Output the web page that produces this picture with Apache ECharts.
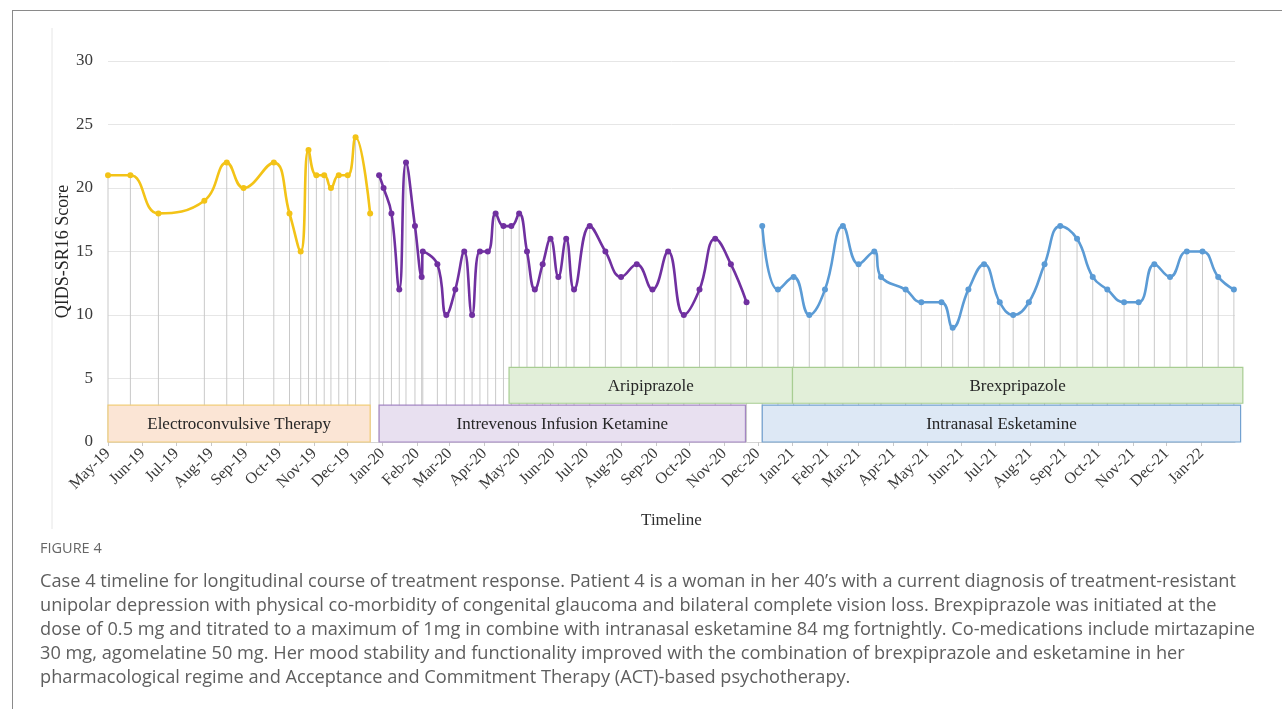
<!DOCTYPE html>
<html>
<head>
<meta charset="utf-8">
<title>Case 4 timeline</title>
<script src="https://cdn.jsdelivr.net/npm/echarts@6/dist/echarts.min.js"></script>
<style>
  html, body { margin: 0; padding: 0; background: #fff; }
  body { width: 1282px; height: 709px; position: relative; overflow: hidden; }
  #frame { position: absolute; left: 12px; top: 10px; right: -2px; bottom: -2px;
           border-top: 1px solid #8a8a8a; border-left: 1px solid #8a8a8a; }
  #chart { position: absolute; left: 0; top: 0; width: 1282px; height: 709px; }
  #caption { position: absolute; left: 40px; top: 538px; font-family: "Open Sans", "Noto Sans", sans-serif;
             color: #5e5e5e; }
  #caption .fig { font-size: 14.5px; line-height: 20px; margin-bottom: 10px; color: #666; }
  #caption .line { font-size: 18.2px; line-height: 24px; white-space: nowrap; }
</style>
</head>
<body>
<div id="frame"></div>
<div id="chart"></div>
<div id="caption">
  <div class="fig">FIGURE 4</div>
  <div class="line">Case 4 timeline for longitudinal course of treatment response. Patient 4 is a woman in her 40’s with a current diagnosis of treatment-resistant</div>
  <div class="line">unipolar depression with physical co-morbidity of congenital glaucoma and bilateral complete vision loss. Brexpiprazole was initiated at the</div>
  <div class="line">dose of 0.5 mg and titrated to a maximum of 1mg in combine with intranasal esketamine 84 mg fortnightly. Co-medications include mirtazapine</div>
  <div class="line">30 mg, agomelatine 50 mg. Her mood stability and functionality improved with the combination of brexpiprazole and esketamine in her</div>
  <div class="line">pharmacological regime and Acceptance and Commitment Therapy (ACT)-based psychotherapy.</div>
</div>
<script>
// QIDS-SR16 scores per assessment date, grouped by treatment phase
const ectDates = ['2019-05-01','2019-05-21','2019-06-15','2019-07-26','2019-08-15','2019-08-30','2019-09-26',
  '2019-10-10','2019-10-20','2019-10-27','2019-11-03','2019-11-10','2019-11-16','2019-11-23','2019-12-01',
  '2019-12-08','2019-12-21'];
const ectScores = [21,21,18,19,22,20,22,18,15,23,21,21,20,21,21,24,18];

const ketamineDates = ['2019-12-29','2020-01-02','2020-01-09','2020-01-16','2020-01-22','2020-01-30','2020-02-05',
  '2020-02-06','2020-02-19','2020-02-27','2020-03-06','2020-03-14','2020-03-21','2020-03-28','2020-04-04',
  '2020-04-11','2020-04-18','2020-04-25','2020-05-02','2020-05-09','2020-05-16','2020-05-23','2020-05-30',
  '2020-06-06','2020-06-13','2020-06-20','2020-07-04','2020-07-18','2020-08-01','2020-08-15','2020-08-29',
  '2020-09-12','2020-09-26','2020-10-10','2020-10-24','2020-11-07','2020-11-21'];
const ketamineScores = [21,20,18,12,22,17,13,15,14,10,12,15,10,15,15,18,17,17,18,15,12,14,16,13,16,12,
  17,15,13,14,12,15,10,12,16,14,11];

const esketamineDates = ['2020-12-05','2020-12-19','2021-01-02','2021-01-16','2021-01-30','2021-02-15','2021-03-01',
  '2021-03-15','2021-03-21','2021-04-12','2021-04-26','2021-05-14','2021-05-24','2021-06-07','2021-06-21',
  '2021-07-05','2021-07-17','2021-07-31','2021-08-14','2021-08-28','2021-09-12','2021-09-26','2021-10-09',
  '2021-10-24','2021-11-06','2021-11-20','2021-12-04','2021-12-19','2022-01-02','2022-01-16','2022-01-30'];
const esketamineScores = [17,12,13,10,12,17,14,15,13,12,11,11,9,12,14,11,10,11,14,17,16,13,12,11,11,14,13,15,15,13,12];

// Treatment bars drawn in the lower part of the plot
const treatmentNames = ['Electroconvulsive Therapy','Intrevenous Infusion Ketamine','Aripiprazole','Brexpripazole','Intranasal Esketamine'];
const treatmentStart = ['2019-05-01','2019-12-29','2020-04-23','2021-01-01','2020-12-05'];
const treatmentEnd   = ['2019-12-21','2020-11-20','2021-01-01','2022-02-07','2022-02-05'];
const treatmentLow   = [0, 0, 3.05, 3.05, 0];
const treatmentHigh  = [2.9, 2.9, 5.87, 5.87, 2.9];

// Monthly axis ticks and their labels
const monthTicks = ['2019-05-01','2019-06-01','2019-07-01','2019-08-01','2019-09-01','2019-10-01','2019-11-01',
  '2019-12-01','2020-01-01','2020-02-01','2020-03-01','2020-04-01','2020-05-01','2020-06-01','2020-07-01',
  '2020-08-01','2020-09-01','2020-10-01','2020-11-01','2020-12-01','2021-01-01','2021-02-01','2021-03-01',
  '2021-04-01','2021-05-01','2021-06-01','2021-07-01','2021-08-01','2021-09-01','2021-10-01','2021-11-01',
  '2021-12-01','2022-01-01'];
const monthLabels = ['May-19','Jun-19','Jul-19','Aug-19','Sep-19','Oct-19','Nov-19','Dec-19','Jan-20','Feb-20',
  'Mar-20','Apr-20','May-20','Jun-20','Jul-20','Aug-20','Sep-20','Oct-20','Nov-20','Dec-20','Jan-21','Feb-21',
  'Mar-21','Apr-21','May-21','Jun-21','Jul-21','Aug-21','Sep-21','Oct-21','Nov-21','Dec-21','Jan-22'];
const yTicks = [0, 5, 10, 15, 20, 25, 30];

function toTime(s) {
  const p = s.split('-').map(Number);
  return new Date(p[0], p[1] - 1, p[2]).getTime();
}

const SERIF = '"Liberation Serif", "Times New Roman", serif';
const TEXT = '#3a3a3a';
const tickTimes = monthTicks.map(toTime);

const phases = [
  { dates: ectDates, scores: ectScores, color: '#f3c317' },
  { dates: ketamineDates, scores: ketamineScores, color: '#7030a0' },
  { dates: esketamineDates, scores: esketamineScores, color: '#5b9bd5' }
];

const boxStyles = [
  { fill: '#fbe5d5', stroke: '#f1cd79' },
  { fill: '#e8e0f0', stroke: '#a486c3' },
  { fill: '#e2efd9', stroke: '#a8cd92' },
  { fill: '#e2efd9', stroke: '#a8cd92' },
  { fill: '#dde8f5', stroke: '#72a1d0' }
];

// every assessment gets a grey drop line down to the axis
const dropData = [];
phases.forEach(ph => ph.dates.forEach((d, i) => dropData.push([toTime(d), ph.scores[i]])));

const lineSeries = phases.map(ph => ({
  type: 'line',
  data: ph.dates.map((d, i) => [toTime(d), ph.scores[i]]),
  smooth: 0.45,
  symbol: 'circle',
  symbolSize: 6,
  lineStyle: { color: ph.color, width: 2.6 },
  itemStyle: { color: ph.color },
  z: 5,
  animation: false
}));

const option = {
  animation: false,
  grid: { left: 108, right: 47, top: 61, height: 381, outerBoundsMode: 'none', containLabel: false },
  xAxis: {
    // dates as millisecond timestamps on a linear scale
    type: 'value',
    min: toTime('2019-05-01'),
    max: toTime('2022-01-31'),
    name: 'Timeline',
    nameLocation: 'middle',
    nameGap: 70,
    nameMoveOverlap: false,
    nameTextStyle: { fontFamily: SERIF, fontSize: 17, color: '#2e2e2e' },
    axisLine: { show: true, lineStyle: { color: '#d4d4d4', width: 1 } },
    axisTick: { show: true, customValues: tickTimes, length: 4, lineStyle: { color: '#c8c8c8' } },
    axisLabel: {
      customValues: tickTimes,
      rotate: 45,
      margin: 9,
      fontFamily: SERIF,
      fontSize: 16,
      color: TEXT,
      showMinLabel: true,
      showMaxLabel: true,
      formatter: v => monthLabels[tickTimes.indexOf(v)] || ''
    },
    splitLine: { show: false }
  },
  yAxis: {
    type: 'value',
    min: 0,
    max: 30,
    interval: 5,
    name: 'QIDS-SR16 Score',
    nameLocation: 'middle',
    nameGap: 36,
    nameMoveOverlap: false,
    nameTextStyle: { fontFamily: SERIF, fontSize: 18, color: '#262626' },
    axisLine: { show: false },
    axisTick: { show: false },
    axisLabel: { fontFamily: SERIF, fontSize: 17, color: TEXT, margin: 15,
                 formatter: v => (yTicks.indexOf(v) >= 0 ? String(v) : '') },
    splitLine: { lineStyle: { color: '#e6e6e6', width: 1 } }
  },
  series: [
    {
      type: 'custom',
      data: dropData,
      encode: { x: 0, y: 1 },
      z: 1,
      silent: true,
      renderItem: (params, api) => {
        const top = api.coord([api.value(0), api.value(1)]);
        const bottom = api.coord([api.value(0), 0]);
        return {
          type: 'line',
          shape: { x1: top[0], y1: top[1], x2: bottom[0], y2: bottom[1] },
          style: { stroke: '#c9c9c9', lineWidth: 1 }
        };
      }
    },
    {
      type: 'custom',
      data: treatmentNames.map((n, i) => [toTime(treatmentStart[i]), toTime(treatmentEnd[i]), treatmentLow[i], treatmentHigh[i]]),
      encode: { x: [0, 1], y: [2, 3] },
      z: 3,
      clip: false,
      silent: true,
      renderItem: (params, api) => {
        const i = params.dataIndex;
        const p0 = api.coord([api.value(0), api.value(3)]);
        const p1 = api.coord([api.value(1), api.value(2)]);
        const st = boxStyles[i];
        return {
          type: 'group',
          children: [
            {
              type: 'rect',
              shape: { x: p0[0], y: p0[1], width: p1[0] - p0[0], height: p1[1] - p0[1] },
              style: { fill: st.fill, stroke: st.stroke, lineWidth: 1.2 }
            },
            {
              type: 'text',
              style: {
                text: treatmentNames[i],
                x: (p0[0] + p1[0]) / 2,
                y: (p0[1] + p1[1]) / 2 + 1,
                align: 'center',
                verticalAlign: 'middle',
                fontFamily: SERIF,
                fontSize: 17,
                fill: '#262626'
              }
            }
          ]
        };
      }
    }
  ].concat(lineSeries),
  graphic: [
    { type: 'line', shape: { x1: 52, y1: 28, x2: 52, y2: 529 }, style: { stroke: '#e6e6e6', lineWidth: 1 }, silent: true }
  ]
};

const chart = echarts.init(document.getElementById('chart'), null, { renderer: 'canvas' });
chart.setOption(option);
</script>
</body>
</html>
